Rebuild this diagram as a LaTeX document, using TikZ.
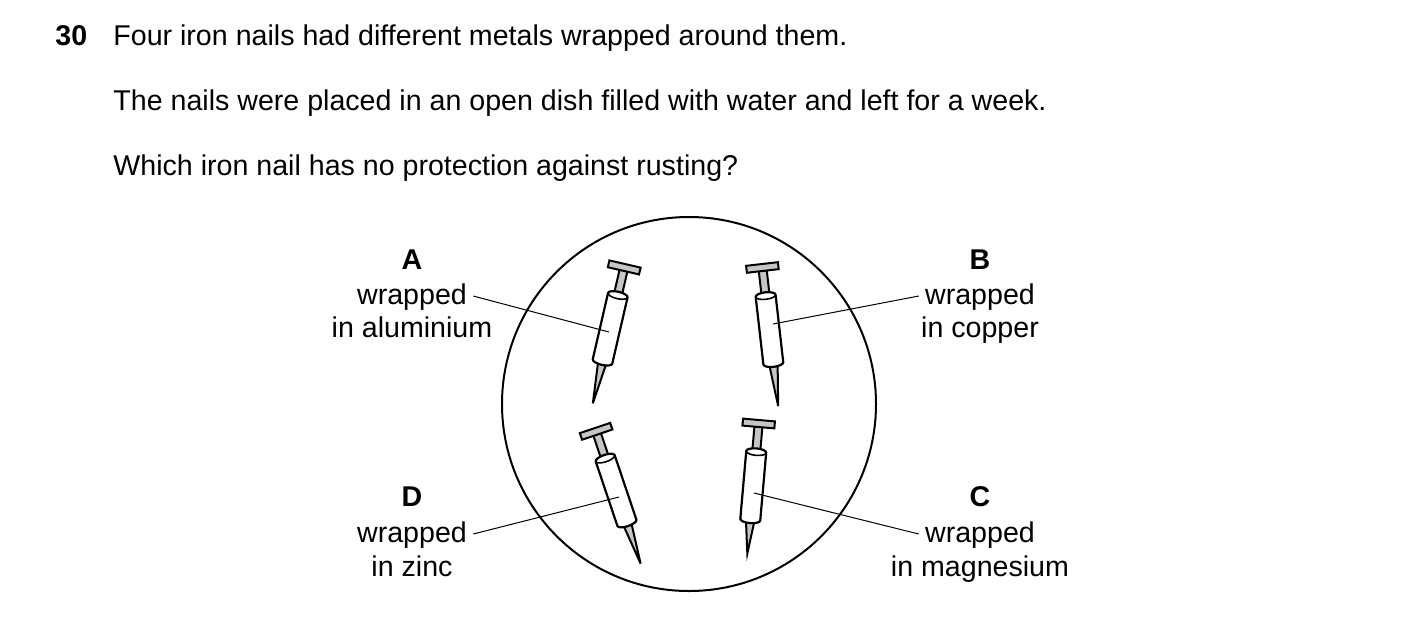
\documentclass[tikz,border=0pt]{standalone}
\usepackage{fontspec}
\setmainfont{Liberation Sans}
\begin{document}
\begin{tikzpicture}[x=0.5pt,y=-0.5pt,
  txt/.style={font=\fontsize{14.3}{17}\selectfont,inner sep=0pt,anchor=base},
  bf/.style={txt,font=\fontsize{14.3}{17}\selectfont\bfseries},
  lead/.style={line width=0.5pt},
  nailpart/.style={draw=black,line width=1pt,fill=gray!45},
  sleeve/.style={draw=black,line width=1.1pt,fill=white}]
\useasboundingbox (0,0) rectangle (1403,639);
\node[bf,anchor=base west] (q) at (55,45) {30};
\node[txt,anchor=base west] (l1) at (113,45) {Four iron nails had different metals wrapped around them.};
\node[txt,anchor=base west] (l2) at (113,110) {The nails were placed in an open dish filled with water and left for a week.};
\node[txt,anchor=base west] (l3) at (113,175) {Which iron nail has no protection against rusting?};
\node[draw,line width=1pt,circle,minimum size=374*0.5pt,inner sep=0pt] (dish) at (689,404) {};
\newcommand{\mynail}[4]{%
\begin{scope}[shift={(#1,#2)},rotate=#3]
 \filldraw[nailpart] (-4,5) -- (-4,103) -- (0,#4) -- (4,103) -- (4,5) -- cycle;
 \filldraw[nailpart] (-16,0) rectangle (16,7);
 \filldraw[sleeve] (-10,32) -- (-10,100) arc[start angle=180,end angle=360,x radius=10,y radius=-3.5] -- (10,32) arc[start angle=0,end angle=180,x radius=10,y radius=-3.5] -- cycle;
 \draw[line width=0.8pt] (-10,32) arc[start angle=180,end angle=360,x radius=10,y radius=-3.5];
\end{scope}}
\mynail{625}{264}{-13}{143}
\mynail{762}{264}{6.5}{143}
\mynail{595}{428}{18.6}{143}
\mynail{759}{420}{-5}{134}
\coordinate (pa) at (609,332);
\coordinate (pb) at (773,324);
\coordinate (pd) at (619,497);
\coordinate (pc) at (754,493);
\node[bf] (A) at (412,269) {A};
\node[txt] (Aw) at (412,304) {wrapped};
\node[txt] (Am) at (412,337) {in aluminium};
\node[bf] (B) at (980,269) {B};
\node[txt] (Bw) at (980,304) {wrapped};
\node[txt] (Bm) at (980,337) {in copper};
\node[bf] (D) at (412,506) {D};
\node[txt] (Dw) at (412,542) {wrapped};
\node[txt] (Dm) at (412,576) {in zinc};
\node[bf] (C) at (980,506) {C};
\node[txt] (Cw) at (980,542) {wrapped};
\node[txt] (Cm) at (980,576) {in magnesium};
\draw[lead] ([xshift=3pt,yshift=4pt]Aw.base east) -- (pa);
\draw[lead] ([xshift=-3pt,yshift=4pt]Bw.base west) -- (pb);
\draw[lead] ([xshift=3pt,yshift=4pt]Dw.base east) -- (pd);
\draw[lead] ([xshift=-3pt,yshift=4pt]Cw.base west) -- (pc);
\end{tikzpicture}
\end{document}
